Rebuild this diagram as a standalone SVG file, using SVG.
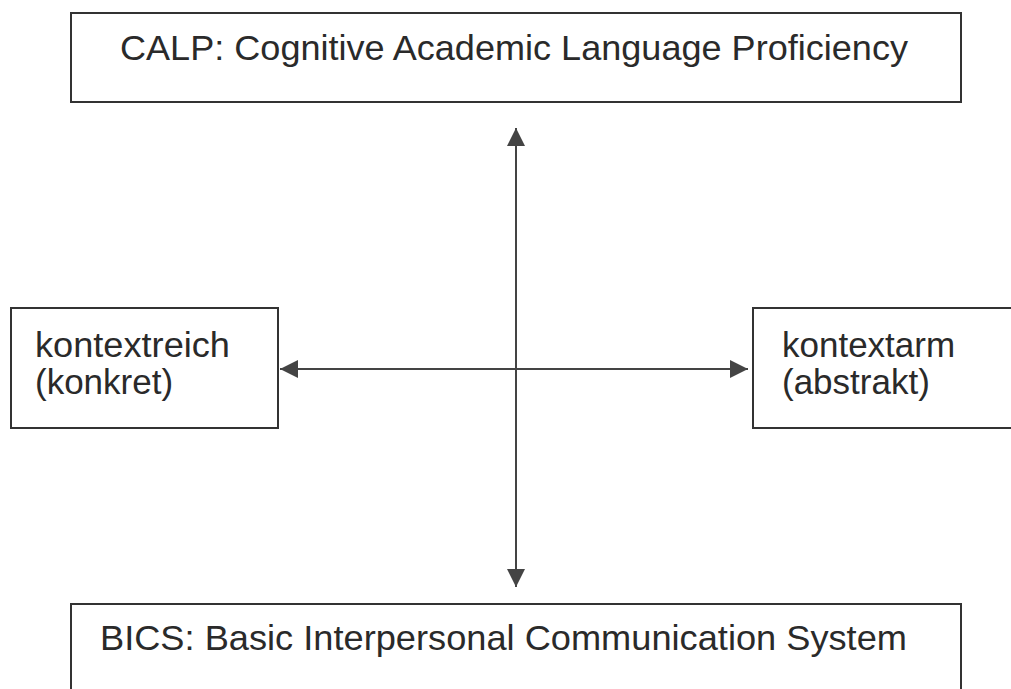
<svg xmlns="http://www.w3.org/2000/svg" width="1011" height="689" viewBox="0 0 1011 689">
<defs>
<style>
.box{fill:#fff;stroke:#333;stroke-width:2}
.lbl{font-family:"Liberation Sans",Arial,sans-serif;font-size:35px;fill:#2a2a2a}
.conn{stroke:#444;stroke-width:2;fill:none}
</style>
<marker id="ah" viewBox="0 0 10 10" refX="10" refY="5" markerWidth="19" markerHeight="18" markerUnits="userSpaceOnUse" orient="auto-start-reverse">
<path d="M0,0 L10,5 L0,10 Z" fill="#444"/>
</marker>
</defs>
<rect width="1011" height="689" fill="#fff"/>
<g id="calp">
<rect class="box" x="71" y="13" width="890" height="89"/>
<text class="lbl" x="120" y="60" textLength="788" lengthAdjust="spacingAndGlyphs">CALP: Cognitive Academic Language Proficiency</text>
</g>
<g id="bics">
<path class="box" d="M71,700 L71,604 L961,604 L961,700"/>
<text class="lbl" x="100" y="650" textLength="807" lengthAdjust="spacingAndGlyphs">BICS: Basic Interpersonal Communication System</text>
</g>
<g id="kontextreich">
<rect class="box" x="11" y="308" width="267" height="120"/>
<text class="lbl" x="35" y="357" textLength="195" lengthAdjust="spacingAndGlyphs">kontextreich</text>
<text class="lbl" x="35" y="394">(konkret)</text>
</g>
<g id="kontextarm">
<rect class="box" x="753" y="308" width="270" height="120"/>
<text class="lbl" x="782" y="357">kontextarm</text>
<text class="lbl" x="782" y="394">(abstrakt)</text>
</g>
<g id="connectors">
<line class="conn" x1="516" y1="128" x2="516" y2="587" marker-start="url(#ah)" marker-end="url(#ah)"/>
<line class="conn" x1="280" y1="369" x2="748" y2="369" marker-start="url(#ah)" marker-end="url(#ah)"/>
</g>
</svg>
